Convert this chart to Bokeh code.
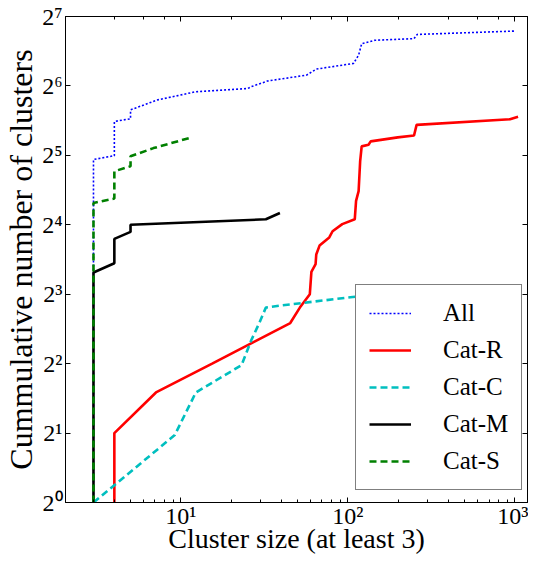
from bokeh.plotting import figure
from bokeh.models import Range1d, LogAxis, LogTicker, Legend, LegendItem, CustomJSTickFormatter
from bokeh.embed import file_html
from bokeh.resources import INLINE

# ---- data (cluster size vs cumulative count) ----
all_x = [3, 3, 4, 4, 5, 5, 6.0, 7.2, 12.3, 25.2, 26.4, 33, 56.6, 64.7, 108, 116, 121, 145, 249, 260, 1000]
all_y = [1, 30.7, 31.9, 44.9, 46.1, 50.4, 52.9, 55.6, 60.4, 62.4, 63.5, 67.2, 71.3, 75.7, 80.1, 87, 97.6, 101, 102.6, 107, 110.7]

r_x = [4, 4, 7.1, 15.4, 27.8, 45.2, 51.6, 59.2, 60.5, 64.1, 64.7, 67.7, 77.4, 81, 92.6, 110, 112, 116, 118.5, 121, 133, 137, 199, 249, 258, 935, 1045]
r_y = [1, 2, 3, 4, 5, 6, 7, 8, 10, 10.8, 11.9, 13, 14.1, 15, 16.1, 16.9, 20.3, 22.4, 30.2, 35, 35.6, 36.8, 38.3, 39, 43.4, 45.9, 47.1]

c_x = [3, 9.2, 12.3, 23.1, 26.4, 29.5, 32.3, 39.4, 103.5, 148]
c_y = [1, 1.96, 3.0, 3.94, 5.05, 6, 7.0, 7.14, 7.76, 8]

m_x = [3, 3, 4, 4, 5, 5, 32.3, 39.2]
m_y = [1, 9.94, 10.9, 13.9, 14.9, 16, 16.9, 18]

s_x = [3, 3, 4, 4, 5, 5, 6.86, 11.2]
s_y = [1, 19.9, 20.8, 27.3, 28.7, 31.7, 34.4, 38]

series_names = ["All", "Cat-R", "Cat-C", "Cat-M", "Cat-S"]

y_tick_labels = {1: "2\u2070", 2: "2\u00b9", 4: "2\u00b2", 8: "2\u00b3", 16: "2\u2074",
                 32: "2\u2075", 64: "2\u2076", 128: "2\u2077"}
x_tick_labels = {10: "10\u00b9", 100: "10\u00b2", 1000: "10\u00b3"}

FONT = "Liberation Serif"

p = figure(width=528, height=556, x_axis_type="log", y_axis_type="log",
           x_range=Range1d(2.04, 1190), y_range=Range1d(1, 128),
           output_backend="svg", toolbar_location=None,
           min_border_left=60, min_border_right=1, min_border_top=16, min_border_bottom=51)
p.grid.grid_line_color = None
p.outline_line_color = "black"
p.outline_line_width = 1
p.background_fill_color = "white"

xaxis = p.xaxis[0]
yaxis = p.yaxis[0]
yaxis.ticker = LogTicker(base=2)

blank = CustomJSTickFormatter(code="return ''")
top = LogAxis(ticker=LogTicker(), formatter=blank)
right = LogAxis(ticker=LogTicker(base=2), formatter=blank)
p.add_layout(top, "above")
p.add_layout(right, "right")

for ax in [xaxis, yaxis, top, right]:
    ax.major_tick_in = 5
    ax.major_tick_out = 0
    ax.minor_tick_in = 3
    ax.minor_tick_out = 0
    ax.axis_line_color = "black"
    ax.major_tick_line_color = "black"
    ax.minor_tick_line_color = "black"
    ax.major_label_text_font = FONT
    ax.major_label_text_font_size = "24px"
    ax.major_label_text_color = "black"
    ax.axis_label_text_font = FONT
    ax.axis_label_text_font_style = "normal"
    ax.axis_label_text_color = "black"

for ax in [top, right]:
    ax.major_label_text_font_size = "0px"
    ax.major_label_standoff = 0
    ax.axis_label_standoff = 0

for ax in [yaxis, right]:
    ax.minor_tick_line_color = None

yaxis.major_label_overrides = y_tick_labels
xaxis.major_label_overrides = x_tick_labels
xaxis.major_label_standoff = 0
yaxis.major_label_standoff = 3
xaxis.axis_label_standoff = -9
yaxis.axis_label_standoff = 0
xaxis.axis_label_text_font_size = "28px"
yaxis.axis_label_text_font_size = "32px"
xaxis.axis_label = "Cluster size (at least 3)"
yaxis.axis_label = "Cummulative number of clusters"

r_all = p.line(all_x, all_y, line_color="#0000ff", line_width=1.6, line_dash="2 2")
r_r = p.line(r_x, r_y, line_color="#ff0000", line_width=2.6)
r_c = p.line(c_x, c_y, line_color="#00bfbf", line_width=2.6, line_dash="7 4")
r_m = p.line(m_x, m_y, line_color="black", line_width=2.6)
r_s = p.line(s_x, s_y, line_color="#008000", line_width=2.6, line_dash="7 4")

renderers = [r_all, r_r, r_c, r_m, r_s]
legend = Legend(items=[LegendItem(label=n, renderers=[r]) for n, r in zip(series_names, renderers)],
                location=(290, 12))
legend.label_text_font = FONT
legend.label_text_font_size = "25px"
legend.label_text_color = "black"
legend.glyph_width = 42
legend.glyph_height = 30
legend.label_height = 30
legend.spacing = 7
legend.padding = 13
legend.margin = 0
legend.label_standoff = 32
legend.border_line_color = "black"
legend.border_line_width = 1
legend.background_fill_alpha = 1.0
p.add_layout(legend)

open("out.html", "w").write(file_html(p, INLINE))
